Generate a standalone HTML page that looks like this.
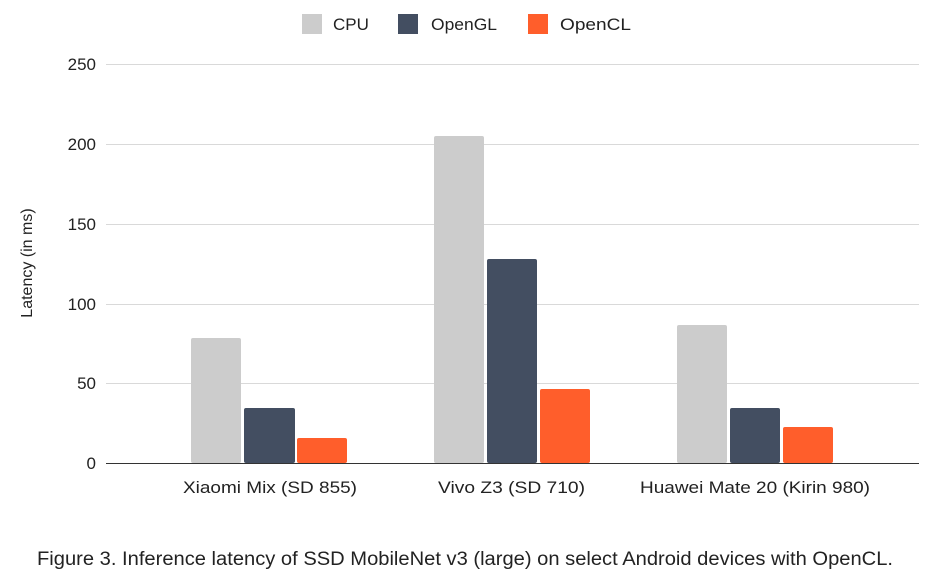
<!DOCTYPE html>
<html><head><meta charset="utf-8"><style>
body{margin:0;background:#fff;width:945px;height:582px;overflow:hidden;font-family:"Liberation Sans",sans-serif}
</style></head><body>
<svg width="945" height="582" xmlns="http://www.w3.org/2000/svg" font-family="Liberation Sans, sans-serif">
<g stroke="#d9d9d9" stroke-width="1">
<line x1="106" x2="919" y1="64.5" y2="64.5"/>
<line x1="106" x2="919" y1="144.5" y2="144.5"/>
<line x1="106" x2="919" y1="224.5" y2="224.5"/>
<line x1="106" x2="919" y1="304.5" y2="304.5"/>
<line x1="106" x2="919" y1="383.5" y2="383.5"/>
</g>
<g font-size="17" fill="#222" text-anchor="end">
<text x="96" y="70">250</text><text x="96" y="150">200</text><text x="96" y="230">150</text>
<text x="96" y="310">100</text><text x="96" y="389">50</text><text x="96" y="469">0</text>
</g>
<text transform="translate(32,263) rotate(-90)" font-size="16" fill="#222" text-anchor="middle">Latency (in ms)</text>
<g>
<rect x="191" y="338" width="50" height="125" rx="2" fill="#cccccc"/>
<rect x="244" y="408" width="51" height="55" rx="2" fill="#434e61"/>
<rect x="297" y="438" width="50" height="25" rx="2" fill="#ff5e2b"/>
<rect x="434" y="136" width="50" height="327" rx="2" fill="#cccccc"/>
<rect x="487" y="259" width="50" height="204" rx="2" fill="#434e61"/>
<rect x="540" y="389" width="50" height="74" rx="2" fill="#ff5e2b"/>
<rect x="677" y="325" width="50" height="138" rx="2" fill="#cccccc"/>
<rect x="730" y="408" width="50" height="55" rx="2" fill="#434e61"/>
<rect x="783" y="427" width="50" height="36" rx="2" fill="#ff5e2b"/>
</g>
<line x1="106" x2="919" y1="463.5" y2="463.5" stroke="#333" stroke-width="1"/>
<g font-size="17" fill="#222">
<text x="183" y="493" textLength="174" lengthAdjust="spacingAndGlyphs">Xiaomi Mix (SD 855)</text>
<text x="438" y="493" textLength="147" lengthAdjust="spacingAndGlyphs">Vivo Z3 (SD 710)</text>
<text x="640" y="493" textLength="230" lengthAdjust="spacingAndGlyphs">Huawei Mate 20 (Kirin 980)</text>
</g>
<g font-size="17" fill="#222">
<rect x="302" y="14" width="20" height="20" fill="#cccccc"/><text x="333" y="30">CPU</text>
<rect x="398" y="14" width="20" height="20" fill="#434e61"/><text x="431" y="30" textLength="66" lengthAdjust="spacingAndGlyphs">OpenGL</text>
<rect x="528" y="14" width="20" height="20" fill="#ff5e2b"/><text x="560" y="30" textLength="71" lengthAdjust="spacingAndGlyphs">OpenCL</text>
</g>
<text x="37" y="565" font-size="19" fill="#222" textLength="856" lengthAdjust="spacingAndGlyphs">Figure 3. Inference latency of SSD MobileNet v3 (large) on select Android devices with OpenCL.</text>
</svg>
</body></html>
